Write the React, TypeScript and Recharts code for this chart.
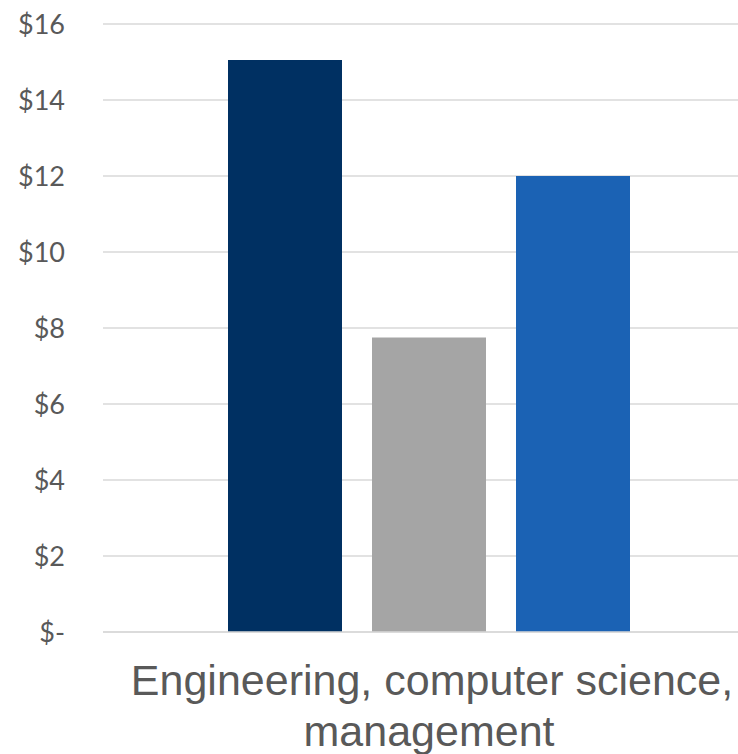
import { BarChart, Bar, XAxis, YAxis, CartesianGrid } from 'recharts';

const categories = ['Engineering, computer science, management'];
const seriesNavy = [15.05];
const seriesGray = [7.75];
const seriesBlue = [12.0];
const yTicks = [0, 2, 4, 6, 8, 10, 12, 14, 16];

const data = categories.map((name, i) => ({
  name,
  navy: seriesNavy[i],
  gray: seriesGray[i],
  blue: seriesBlue[i],
}));

const CategoryTick = ({ x, y }: any) => (
  <text x={x} textAnchor="middle" fill="#595959" fontSize={43} fontFamily="'Liberation Sans', Arial, sans-serif">
    <tspan x={x + 3} y={y + 63}>Engineering, computer science,</tspan>
    <tspan x={x} y={y + 114}>management</tspan>
  </text>
);

export default function App() {
  return (
    <div style={{ position: 'absolute', left: 0, top: 0, width: 738, height: 754, overflow: 'hidden', background: '#fff' }}>
      <BarChart width={755} height={754} data={data} barSize={114} barGap={30} margin={{ top: 24, right: 0, bottom: 0, left: 0 }}>
        <CartesianGrid vertical={false} stroke="#d9d9d9" strokeWidth={1.5} />
        <XAxis dataKey="name" height={122} tickLine={false} axisLine={{ stroke: '#d9d9d9', strokeWidth: 1.5 }} tickSize={0} tickMargin={0} tick={<CategoryTick />} />
        <YAxis
          width={103}
          domain={[0, 16]}
          ticks={yTicks}
          axisLine={false}
          tickLine={false}
          tickSize={6}
          tickMargin={32}
          tickFormatter={(v: number) => (v === 0 ? '$-' : `$${v}`)}
          tick={{ fill: '#595959', fontSize: 27, fontFamily: 'Lato, sans-serif' }}
        />
        <Bar dataKey="navy" fill="#003062" isAnimationActive={false} />
        <Bar dataKey="gray" fill="#a5a5a5" isAnimationActive={false} />
        <Bar dataKey="blue" fill="#1b62b4" isAnimationActive={false} />
      </BarChart>
    </div>
  );
}
